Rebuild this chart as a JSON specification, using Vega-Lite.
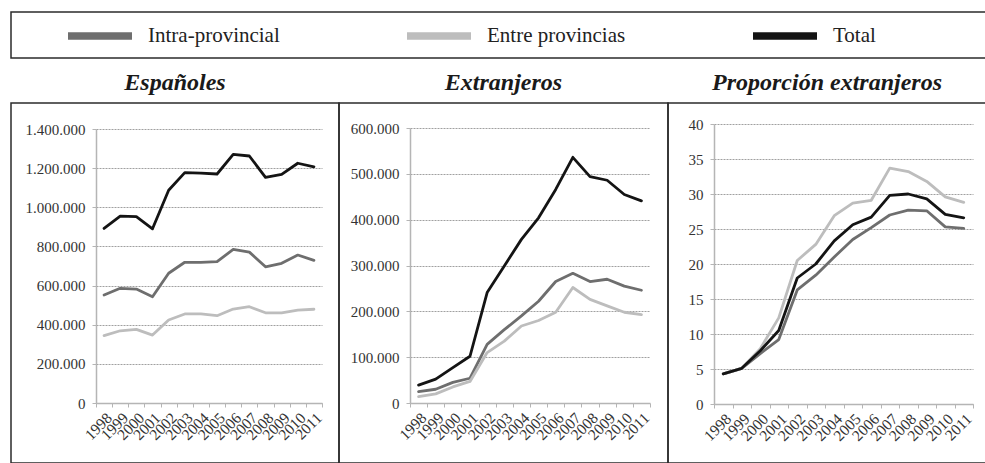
{
  "$schema": "https://vega.github.io/schema/vega-lite/v6.json",
  "padding": {"left": 10, "top": 0, "right": 0, "bottom": 0},
  "bounds": "flush",
  "spacing": 45,
  "config": {
    "locale": {"number": {"decimal": ",", "thousands": ".", "grouping": [3], "currency": ["", " €"]}},
    "font": "Liberation Serif",
    "view": {"stroke": "#2b2b2b", "strokeWidth": 1.5},
    "axis": {
      "labelFont": "Liberation Serif", "labelFontSize": 15, "labelColor": "#333",
      "domainColor": "#b5b5b5", "domainWidth": 1.5, "tickColor": "#b5b5b5", "tickSize": 4,
      "gridColor": "#a0a0a0", "gridDash": [2, 1], "gridWidth": 1, "title": null
    },
    "title": {"font": "Liberation Serif", "fontSize": 24, "fontWeight": "bold", "fontStyle": "italic", "color": "#1a1a1a", "anchor": "middle", "frame": "group", "baseline": "alphabetic", "offset": 8},
    "legend": {
      "orient": "none", "legendX": 53, "legendY": -12, "direction": "horizontal", "columns": 3,
      "columnPadding": 112, "padding": 0, "title": null,
      "symbolType": "stroke", "symbolStrokeWidth": 7.5, "symbolSize": 4096,
      "labelFont": "Liberation Serif", "labelFontSize": 21, "labelColor": "#222", "labelOffset": 12
    }
  },
  "datasets": {
    "esp": [
      {"anio": "1998", "serie": "Intra-provincial", "valor": 552000}, {"anio": "1999", "serie": "Intra-provincial", "valor": 586000},
      {"anio": "2000", "serie": "Intra-provincial", "valor": 582000}, {"anio": "2001", "serie": "Intra-provincial", "valor": 543000},
      {"anio": "2002", "serie": "Intra-provincial", "valor": 663000}, {"anio": "2003", "serie": "Intra-provincial", "valor": 719000},
      {"anio": "2004", "serie": "Intra-provincial", "valor": 719000}, {"anio": "2005", "serie": "Intra-provincial", "valor": 722000},
      {"anio": "2006", "serie": "Intra-provincial", "valor": 785000}, {"anio": "2007", "serie": "Intra-provincial", "valor": 771000},
      {"anio": "2008", "serie": "Intra-provincial", "valor": 696000}, {"anio": "2009", "serie": "Intra-provincial", "valor": 714000},
      {"anio": "2010", "serie": "Intra-provincial", "valor": 756000}, {"anio": "2011", "serie": "Intra-provincial", "valor": 729000},
      {"anio": "1998", "serie": "Entre provincias", "valor": 344000}, {"anio": "1999", "serie": "Entre provincias", "valor": 369000},
      {"anio": "2000", "serie": "Entre provincias", "valor": 376000}, {"anio": "2001", "serie": "Entre provincias", "valor": 347000},
      {"anio": "2002", "serie": "Entre provincias", "valor": 424000}, {"anio": "2003", "serie": "Entre provincias", "valor": 455000},
      {"anio": "2004", "serie": "Entre provincias", "valor": 455000}, {"anio": "2005", "serie": "Entre provincias", "valor": 446000},
      {"anio": "2006", "serie": "Entre provincias", "valor": 480000}, {"anio": "2007", "serie": "Entre provincias", "valor": 492000},
      {"anio": "2008", "serie": "Entre provincias", "valor": 461000}, {"anio": "2009", "serie": "Entre provincias", "valor": 461000},
      {"anio": "2010", "serie": "Entre provincias", "valor": 475000}, {"anio": "2011", "serie": "Entre provincias", "valor": 479000},
      {"anio": "1998", "serie": "Total", "valor": 892000}, {"anio": "1999", "serie": "Total", "valor": 955000},
      {"anio": "2000", "serie": "Total", "valor": 952000}, {"anio": "2001", "serie": "Total", "valor": 890000},
      {"anio": "2002", "serie": "Total", "valor": 1087000}, {"anio": "2003", "serie": "Total", "valor": 1177000},
      {"anio": "2004", "serie": "Total", "valor": 1175000}, {"anio": "2005", "serie": "Total", "valor": 1170000},
      {"anio": "2006", "serie": "Total", "valor": 1270000}, {"anio": "2007", "serie": "Total", "valor": 1262000},
      {"anio": "2008", "serie": "Total", "valor": 1153000}, {"anio": "2009", "serie": "Total", "valor": 1168000},
      {"anio": "2010", "serie": "Total", "valor": 1225000}, {"anio": "2011", "serie": "Total", "valor": 1207000}
    ],
    "ext": [
      {"anio": "1998", "serie": "Intra-provincial", "valor": 25000}, {"anio": "1999", "serie": "Intra-provincial", "valor": 30000},
      {"anio": "2000", "serie": "Intra-provincial", "valor": 45000}, {"anio": "2001", "serie": "Intra-provincial", "valor": 54000},
      {"anio": "2002", "serie": "Intra-provincial", "valor": 128000}, {"anio": "2003", "serie": "Intra-provincial", "valor": 160000},
      {"anio": "2004", "serie": "Intra-provincial", "valor": 190000}, {"anio": "2005", "serie": "Intra-provincial", "valor": 222000},
      {"anio": "2006", "serie": "Intra-provincial", "valor": 265000}, {"anio": "2007", "serie": "Intra-provincial", "valor": 283000},
      {"anio": "2008", "serie": "Intra-provincial", "valor": 265000}, {"anio": "2009", "serie": "Intra-provincial", "valor": 270000},
      {"anio": "2010", "serie": "Intra-provincial", "valor": 255000}, {"anio": "2011", "serie": "Intra-provincial", "valor": 246000},
      {"anio": "1998", "serie": "Entre provincias", "valor": 14000}, {"anio": "1999", "serie": "Entre provincias", "valor": 20000},
      {"anio": "2000", "serie": "Entre provincias", "valor": 35000}, {"anio": "2001", "serie": "Entre provincias", "valor": 47000},
      {"anio": "2002", "serie": "Entre provincias", "valor": 110000}, {"anio": "2003", "serie": "Entre provincias", "valor": 135000},
      {"anio": "2004", "serie": "Entre provincias", "valor": 168000}, {"anio": "2005", "serie": "Entre provincias", "valor": 180000},
      {"anio": "2006", "serie": "Entre provincias", "valor": 198000}, {"anio": "2007", "serie": "Entre provincias", "valor": 252000},
      {"anio": "2008", "serie": "Entre provincias", "valor": 226000}, {"anio": "2009", "serie": "Entre provincias", "valor": 212000},
      {"anio": "2010", "serie": "Entre provincias", "valor": 198000}, {"anio": "2011", "serie": "Entre provincias", "valor": 193000},
      {"anio": "1998", "serie": "Total", "valor": 39000}, {"anio": "1999", "serie": "Total", "valor": 52000},
      {"anio": "2000", "serie": "Total", "valor": 77000}, {"anio": "2001", "serie": "Total", "valor": 102000},
      {"anio": "2002", "serie": "Total", "valor": 241000}, {"anio": "2003", "serie": "Total", "valor": 299000},
      {"anio": "2004", "serie": "Total", "valor": 357000}, {"anio": "2005", "serie": "Total", "valor": 404000},
      {"anio": "2006", "serie": "Total", "valor": 466000}, {"anio": "2007", "serie": "Total", "valor": 536000},
      {"anio": "2008", "serie": "Total", "valor": 494000}, {"anio": "2009", "serie": "Total", "valor": 486000},
      {"anio": "2010", "serie": "Total", "valor": 455000}, {"anio": "2011", "serie": "Total", "valor": 441000}
    ],
    "prop": [
      {"anio": "1998", "serie": "Intra-provincial", "valor": 4.3}, {"anio": "1999", "serie": "Intra-provincial", "valor": 5.1},
      {"anio": "2000", "serie": "Intra-provincial", "valor": 7.2}, {"anio": "2001", "serie": "Intra-provincial", "valor": 9.2},
      {"anio": "2002", "serie": "Intra-provincial", "valor": 16.3}, {"anio": "2003", "serie": "Intra-provincial", "valor": 18.4},
      {"anio": "2004", "serie": "Intra-provincial", "valor": 21.0}, {"anio": "2005", "serie": "Intra-provincial", "valor": 23.5},
      {"anio": "2006", "serie": "Intra-provincial", "valor": 25.2}, {"anio": "2007", "serie": "Intra-provincial", "valor": 27.0},
      {"anio": "2008", "serie": "Intra-provincial", "valor": 27.7}, {"anio": "2009", "serie": "Intra-provincial", "valor": 27.6},
      {"anio": "2010", "serie": "Intra-provincial", "valor": 25.3}, {"anio": "2011", "serie": "Intra-provincial", "valor": 25.1},
      {"anio": "1998", "serie": "Entre provincias", "valor": 4.3}, {"anio": "1999", "serie": "Entre provincias", "valor": 5.1},
      {"anio": "2000", "serie": "Entre provincias", "valor": 7.9}, {"anio": "2001", "serie": "Entre provincias", "valor": 12.3},
      {"anio": "2002", "serie": "Entre provincias", "valor": 20.5}, {"anio": "2003", "serie": "Entre provincias", "valor": 22.8},
      {"anio": "2004", "serie": "Entre provincias", "valor": 26.9}, {"anio": "2005", "serie": "Entre provincias", "valor": 28.7},
      {"anio": "2006", "serie": "Entre provincias", "valor": 29.1}, {"anio": "2007", "serie": "Entre provincias", "valor": 33.7},
      {"anio": "2008", "serie": "Entre provincias", "valor": 33.2}, {"anio": "2009", "serie": "Entre provincias", "valor": 31.8},
      {"anio": "2010", "serie": "Entre provincias", "valor": 29.6}, {"anio": "2011", "serie": "Entre provincias", "valor": 28.8},
      {"anio": "1998", "serie": "Total", "valor": 4.3}, {"anio": "1999", "serie": "Total", "valor": 5.1},
      {"anio": "2000", "serie": "Total", "valor": 7.6}, {"anio": "2001", "serie": "Total", "valor": 10.5},
      {"anio": "2002", "serie": "Total", "valor": 18.0}, {"anio": "2003", "serie": "Total", "valor": 20.0},
      {"anio": "2004", "serie": "Total", "valor": 23.3}, {"anio": "2005", "serie": "Total", "valor": 25.6},
      {"anio": "2006", "serie": "Total", "valor": 26.7}, {"anio": "2007", "serie": "Total", "valor": 29.8},
      {"anio": "2008", "serie": "Total", "valor": 30.0}, {"anio": "2009", "serie": "Total", "valor": 29.3},
      {"anio": "2010", "serie": "Total", "valor": 27.1}, {"anio": "2011", "serie": "Total", "valor": 26.6}
    ]
  },
  "vconcat": [
    {
      "width": 975,
      "height": 46,
      "data": {"values": [{"k": 1}]},
      "mark": {"type": "point", "opacity": 0},
      "encoding": {
        "x": {"field": "k", "type": "quantitative", "axis": null},
        "y": {"field": "k", "type": "quantitative", "axis": null}
      }
    },
    {
      "bounds": "flush",
      "spacing": 0,
      "hconcat": [
        {
          "title": "Españoles",
          "width": 328,
          "height": 360,
          "data": {"name": "esp"},
          "mark": {"type": "line", "strokeWidth": 2.8, "strokeJoin": "round", "strokeCap": "round"},
          "encoding": {
            "x": {"field": "anio", "type": "ordinal",
              "scale": {"type": "band", "range": [85, 311], "paddingInner": 0, "paddingOuter": 0},
              "axis": {"offset": -60, "tickBand": "extent", "labelAngle": -45, "grid": false, "labelPadding": 3, "labelFontSize": 15.5}},
            "y": {"field": "valor", "type": "quantitative",
              "scale": {"domain": [0, 1400000], "range": [300, 26], "nice": false},
              "axis": {"offset": -85, "values": [0, 200000, 400000, 600000, 800000, 1000000, 1200000, 1400000], "format": ",d", "grid": true, "labelPadding": 7}},
            "color": {"field": "serie", "type": "nominal",
              "scale": {"domain": ["Intra-provincial", "Entre provincias", "Total"], "range": ["#6e6e6e", "#bdbdbd", "#141414"]},
              "legend": {}}
          }
        },
        {
          "title": "Extranjeros",
          "width": 329,
          "height": 360,
          "data": {"name": "ext"},
          "mark": {"type": "line", "strokeWidth": 2.8, "strokeJoin": "round", "strokeCap": "round"},
          "encoding": {
            "x": {"field": "anio", "type": "ordinal",
              "scale": {"type": "band", "range": [71, 311], "paddingInner": 0, "paddingOuter": 0},
              "axis": {"offset": -60, "tickBand": "extent", "labelAngle": -45, "grid": false, "labelPadding": 3, "labelFontSize": 15.5}},
            "y": {"field": "valor", "type": "quantitative",
              "scale": {"domain": [0, 600000], "range": [300, 25], "nice": false},
              "axis": {"offset": -71, "values": [0, 100000, 200000, 300000, 400000, 500000, 600000], "format": ",d", "grid": true, "labelPadding": 7}},
            "color": {"field": "serie", "type": "nominal",
              "scale": {"domain": ["Intra-provincial", "Entre provincias", "Total"], "range": ["#6e6e6e", "#bdbdbd", "#141414"]}}
          }
        },
        {
          "title": "Proporción extranjeros",
          "width": 318,
          "height": 360,
          "data": {"name": "prop"},
          "mark": {"type": "line", "strokeWidth": 2.8, "strokeJoin": "round", "strokeCap": "round"},
          "encoding": {
            "x": {"field": "anio", "type": "ordinal",
              "scale": {"type": "band", "range": [46, 305], "paddingInner": 0, "paddingOuter": 0},
              "axis": {"offset": -59, "tickBand": "extent", "labelAngle": -45, "grid": false, "labelPadding": 3, "labelFontSize": 15.5}},
            "y": {"field": "valor", "type": "quantitative",
              "scale": {"domain": [0, 40], "range": [301, 21], "nice": false},
              "axis": {"offset": -46, "values": [0, 5, 10, 15, 20, 25, 30, 35, 40], "grid": true, "labelPadding": 7}},
            "color": {"field": "serie", "type": "nominal",
              "scale": {"domain": ["Intra-provincial", "Entre provincias", "Total"], "range": ["#6e6e6e", "#bdbdbd", "#141414"]}}
          }
        }
      ]
    }
  ]
}
